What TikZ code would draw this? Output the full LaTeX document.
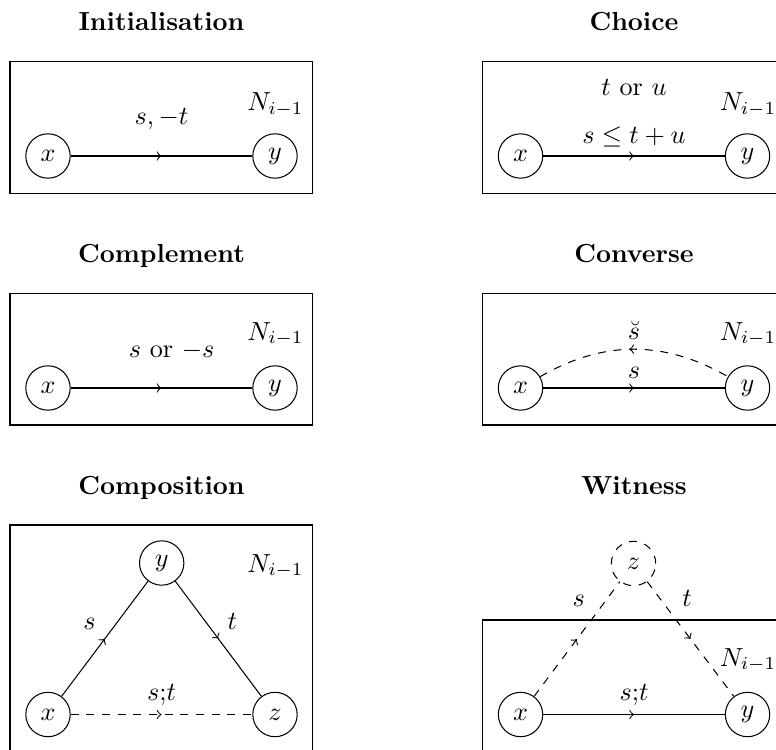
\documentclass[tikz,border=0pt]{standalone}
\usepackage{amsmath,amssymb}
\usetikzlibrary{decorations.markings}

\begin{document}
\begin{tikzpicture}[x=0.383pt,y=-0.383pt,
  vertex/.style={draw,circle,minimum size=17pt,inner sep=0pt},
  midarrow/.style={postaction={decorate},decoration={markings,mark=at position 0.5 with {\arrow{>}}}},
  backarrow/.style={postaction={decorate},decoration={markings,mark=at position 0.5 with {\arrow{<}}}},
  paneltitle/.style={font=\bfseries,anchor=base},
  netname/.style={anchor=base}]
\path[use as bounding box,clip] (0,0) rectangle (776,749);

% Initialisation
\node[paneltitle] (tinit) at (161.5,31) {Initialisation};
\draw (10,61.7) rectangle (312.7,193.3);
\node[vertex] (x1) at (48,156) {$x$};
\node[vertex] (y1) at (275,156) {$y$};
\node[netname] (n1) at (275.5,111) {$N_{i-1}$};
\draw[midarrow] (x1) -- node[above=6.6pt] {$s,-t$} (y1);

% Choice
\node[paneltitle] (tchoice) at (634,31) {Choice};
\draw (482.7,61.7) rectangle (790,193.3);
\node[vertex] (x2) at (520.5,156) {$x$};
\node[vertex] (y2) at (747.5,156) {$y$};
\node[netname] (n2) at (748,111) {$N_{i-1}$};
\draw[midarrow] (x2) -- node[above] {$s \leq t+u$}
  node[above=19.4pt] {$t$ or $u$} (y2);

% Complement
\node[paneltitle] (tcompl) at (161.5,262.8) {Complement};
\draw (10,293.3) rectangle (312.7,425);
\node[vertex] (x3) at (48,388) {$x$};
\node[vertex] (y3) at (275,388) {$y$};
\node[netname] (n3) at (275.5,340) {$N_{i-1}$};
\draw[midarrow] (x3) -- node[above=7.4pt,xshift=3.9pt] {$s$ or $-s$} (y3);

% Converse
\node[paneltitle] (tconv) at (634,262.8) {Converse};
\draw (482.7,293.3) rectangle (790,425);
\node[vertex] (x4) at (520.5,388) {$x$};
\node[vertex] (y4) at (747.5,388) {$y$};
\node[netname] (n4) at (748,340) {$N_{i-1}$};
\draw[midarrow] (x4) -- node[above] {$s$} (y4);
\draw[backarrow,dashed] (x4) to[bend left=30] node[above] {$\breve{s}$} (y4);

% Composition
\node[paneltitle] (tcomp) at (161.5,494.5) {Composition};
\draw (10,525) rectangle (312.7,760);
\node[vertex] (x5) at (48,714.5) {$x$};
\node[vertex] (y5) at (161.7,563) {$y$};
\node[vertex] (z5) at (275,714.5) {$z$};
\node[netname] (n5) at (275.5,572) {$N_{i-1}$};
\draw[midarrow] (x5) -- node[above left] {$s$} (y5);
\draw[midarrow] (y5) -- node[above right] {$t$} (z5);
\draw[midarrow,dashed] (x5) -- node[above] {$s{;}t$} (z5);

% Witness
\node[paneltitle] (twit) at (634,494.5) {Witness};
\draw (482.7,620) rectangle (790,760);
\node[vertex] (x6) at (520.5,714.5) {$x$};
\node[vertex] (y6) at (747.5,714.5) {$y$};
\node[vertex,dashed] (z6) at (633.5,563.5) {$z$};
\node[netname] (n6) at (748,666) {$N_{i-1}$};
\draw[midarrow,dashed] (x6) -- node[pos=0.7,above left] {$s$} (z6);
\draw[midarrow,dashed] (z6) -- node[pos=0.3,above right] {$t$} (y6);
\draw[midarrow] (x6) -- node[above] {$s{;}t$} (y6);
\end{tikzpicture}
\end{document}
